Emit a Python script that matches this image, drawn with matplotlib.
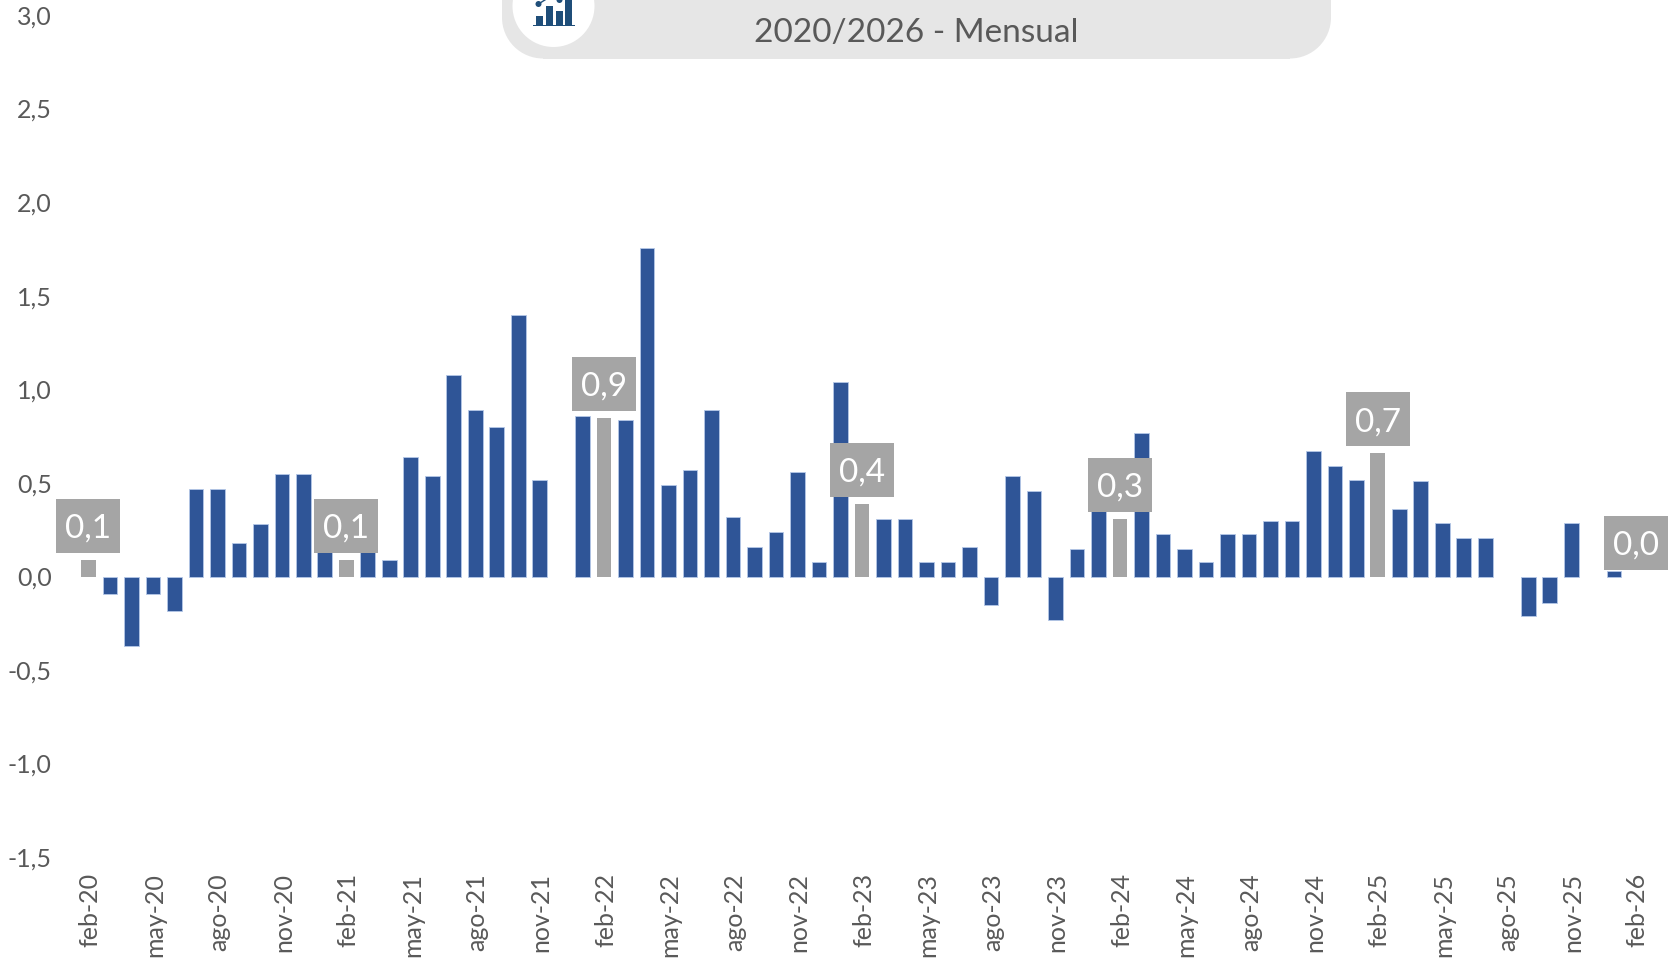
import matplotlib
matplotlib.use("Agg")
import matplotlib.pyplot as plt
from matplotlib.patches import Circle, Rectangle
from matplotlib.lines import Line2D
from matplotlib.transforms import IdentityTransform, Affine2D

plt.rcParams['font.family'] = ['Lato', 'DejaVu Sans']

W, H = 1670, 962
TEXT = '#595959'
BLUE = '#2F5597'
EDGE = '#B4C7E7'
GRAY = '#A5A5A5'
NAVY = '#1F4E79'
PILL = '#E6E6E6'

years = ['20', '21', '22', '23', '24', '25', '26']
month_names = ['feb', 'mar', 'abr', 'may', 'jun', 'jul', 'ago', 'sep', 'oct', 'nov', 'dic', 'ene']

values = [
    0.09, -0.09, -0.37, -0.09, -0.18, 0.47, 0.47, 0.18, 0.28, 0.55, 0.55,
    0.14, 0.09, 0.14, 0.09, 0.64, 0.54, 1.08, 0.89, 0.80, 1.40, 0.52,
    0.0, 0.86, 0.85, 0.84, 1.76, 0.49, 0.57, 0.89, 0.32, 0.16, 0.24, 0.56, 0.08,
    1.04, 0.39, 0.31, 0.31, 0.08, 0.08, 0.16, -0.15, 0.54, 0.46, -0.23, 0.15,
    0.37, 0.31, 0.77, 0.23, 0.15, 0.08, 0.23, 0.23, 0.30, 0.30, 0.67, 0.59,
    0.52, 0.66, 0.36, 0.51, 0.29, 0.21, 0.21, 0.0, -0.21, -0.14, 0.29, 0.0,
    0.03, 0.0,
]
highlight_labels = {0: '0,1', 12: '0,1', 24: '0,9', 36: '0,4', 48: '0,3', 60: '0,7', 72: '0,0'}
yticks = [-1.5, -1.0, -0.5, 0.0, 0.5, 1.0, 1.5, 2.0, 2.5, 3.0]
title_line = '2020/2026 - Mensual'

labels = []
for i in range(len(values)):
    m = month_names[i % 12]
    y = years[(i + 1) // 12]
    labels.append(f'{m}-{y}')

fig = plt.figure(figsize=(W / 100, H / 100), dpi=100, facecolor='white')
ax_left, ax_top, ax_bottom = 60, 16.5, 858.5
ax = fig.add_axes([ax_left / W, 1 - ax_bottom / H, (W - ax_left) / W, (ax_bottom - ax_top) / H])
first_px, step = 88.4, 21.49
ax.set_xlim((ax_left - first_px) / step, (W - first_px) / step)
ax.set_ylim(-1.5, 3.0)
ax.patch.set_alpha(0)
ax.set_zorder(5)
for s in ax.spines.values():
    s.set_visible(False)

x = list(range(len(values)))
colors = [GRAY if i in highlight_labels else BLUE for i in x]
edges = ['none' if i in highlight_labels else EDGE for i in x]
draw = [(i, v) for i, v in zip(x, values) if v != 0]
ax.bar([d[0] for d in draw], [d[1] for d in draw], width=0.68,
       color=[colors[d[0]] for d in draw], edgecolor=[edges[d[0]] for d in draw], linewidth=0.6, zorder=2)

ax.set_yticks(yticks)
ax.set_yticklabels([f'{t:.1f}'.replace('.', ',') for t in yticks], fontsize=18, color=TEXT)
ax.set_xticks(x[::3])
ax.set_xticklabels(labels[::3], rotation=90, fontsize=18, color=TEXT)
ax.tick_params(axis='both', length=0)
ax.tick_params(axis='y', pad=6)
ax.tick_params(axis='x', pad=10.5)
for lab in ax.get_yticklabels():
    lab.set_transform(lab.get_transform() + Affine2D().translate(0, 1.5))
for lab in ax.get_xticklabels():
    lab.set_transform(lab.get_transform() + Affine2D().translate(1.5, 0))

for i, txt in highlight_labels.items():
    bx, by = ax.transData.transform((i, values[i]))
    ax.add_patch(Rectangle((bx - 32, by + 34 - 27), 64, 54, transform=IdentityTransform(),
                           fc=GRAY, ec='none', zorder=4, clip_on=False))
    ax.annotate(txt, (i, values[i]), xytext=(0, 32 * 0.72), textcoords='offset points',
                ha='center', va='center', fontsize=24, color='white', zorder=5, annotation_clip=False)

ident = IdentityTransform()
pill_bottom = 59.5
pill_r = 41
for p in [
    Rectangle((543, H - pill_bottom), 747, 70, transform=ident, fc=PILL, ec='none'),
    Rectangle((502, H - 18), 829, 30, transform=ident, fc=PILL, ec='none'),
    Circle((543, H - pill_bottom + pill_r), pill_r, transform=ident, fc=PILL, ec='none'),
    Circle((1290, H - pill_bottom + pill_r), pill_r, transform=ident, fc=PILL, ec='none'),
    Circle((553.5, H - 7), 41, transform=ident, fc='white', ec='none'),
]:
    fig.patches.append(p)
    p.set_figure(fig)
for xb, top, wid in [(536, 17, 7), (546, 7, 7), (556, 12, 6.5), (565, 0, 7)]:
    r = Rectangle((xb, H - 26), wid, 26 - top, transform=ident, fc=NAVY, ec='none')
    fig.patches.append(r)
    r.set_figure(fig)
r = Rectangle((533, H - 27), 42, 1.5, transform=ident, fc=NAVY, ec='none')
fig.patches.append(r)
r.set_figure(fig)
for c in [(538.5, 5), (559.5, 1)]:
    d = Circle((c[0], H - c[1]), 3, transform=ident, fc=NAVY, ec='none')
    fig.patches.append(d)
    d.set_figure(fig)
fig.add_artist(Line2D([538.5, 548], [H - 5, H + 1], transform=ident, color=NAVY, lw=1))

fig.text(916 / W, 1 - 33 / H, title_line, ha='center', va='center', fontsize=24, color=TEXT)

fig.savefig('out.png', dpi=100, facecolor='white')
